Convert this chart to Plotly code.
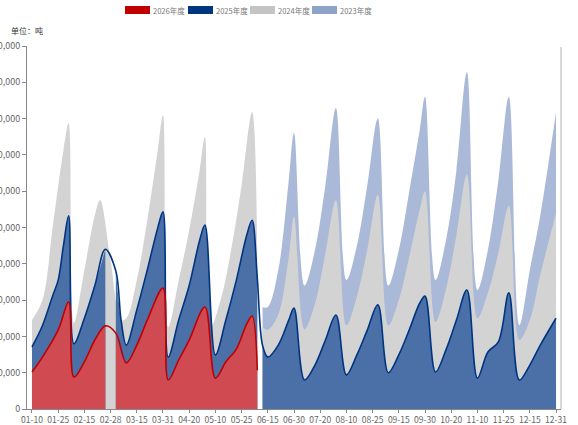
import plotly.graph_objects as go

# x axis categories (dates), a label on every 5th one
dates = [
    '01-10', '01-13', '01-16', '01-19', '01-22',
    '01-25', '01-28', '01-31', '02-05', '02-10',
    '02-15', '02-18', '02-21', '02-24', '02-26',
    '02-28', '03-03', '03-06', '03-09', '03-12',
    '03-15', '03-18', '03-21', '03-24', '03-28',
    '03-31', '04-04', '04-08', '04-12', '04-16',
    '04-20', '04-24', '04-28', '04-30', '05-05',
    '05-10', '05-13', '05-16', '05-19', '05-22',
    '05-25', '05-28', '05-31', '06-05', '06-10',
    '06-15', '06-18', '06-21', '06-24', '06-27',
    '06-30', '07-04', '07-08', '07-12', '07-16',
    '07-20', '07-24', '07-28', '07-31', '08-05',
    '08-10', '08-13', '08-16', '08-19', '08-22',
    '08-25', '08-28', '08-31', '09-05', '09-10',
    '09-15', '09-18', '09-21', '09-24', '09-27',
    '09-30', '10-04', '10-08', '10-12', '10-16',
    '10-20', '10-24', '10-28', '10-31', '11-05',
    '11-10', '11-13', '11-16', '11-19', '11-22',
    '11-25', '11-28', '11-30', '12-05', '12-10',
    '12-15', '12-18', '12-21', '12-24', '12-28',
    '12-31',
]
tick_labels = ['01-10', '01-25', '02-15', '02-28', '03-15', '03-31', '04-20',
               '05-10', '05-25', '06-15', '06-30', '07-20', '08-10', '08-25',
               '09-15', '09-30', '10-20', '11-10', '11-25', '12-15', '12-31']

# (date, tons); None = missing point, the area breaks there
s2026 = [('01-10', 102000), ('01-16', 143000), ('01-25', 218000), ('01-31', 295000),
         ('02-05', 88000), ('02-15', 130000), ('02-21', 190000), ('02-26', 229000),
         ('02-28', None), ('03-03', 209000), ('03-09', 127000), ('03-15', 176000),
         ('03-21', 245000), ('03-31', 333000), ('04-04', 80000), ('04-12', 135000),
         ('04-20', 190000), ('04-30', 281000), ('05-10', 85000), ('05-16', 130000),
         ('05-22', 165000), ('05-28', 235000), ('05-31', 256000), ('06-05', 107000)]

s2025_h1 = [('01-10', 171000), ('01-16', 230000), ('01-22', 314000), ('01-25', 355000),
            ('01-28', 450000), ('01-31', 532000), ('02-05', 180000), ('02-15', 250000),
            ('02-21', 340000), ('02-26', 440000), ('02-28', None), ('03-03', 380000),
            ('03-06', 245000), ('03-09', 176000), ('03-15', 273000), ('03-21', 383000),
            ('03-28', 499000), ('03-31', 543000), ('04-04', 143000), ('04-12', 245000),
            ('04-20', 340000), ('04-28', 465000), ('04-30', 507000), ('05-10', 149000),
            ('05-16', 245000), ('05-22', 355000), ('05-28', 480000), ('05-31', 520000),
            ('06-05', 360000)]
s2025_h2 = [('06-10', 175000), ('06-15', 143000), ('06-21', 176000),
            ('06-27', 245000), ('06-30', 278000), ('07-08', 80000), ('07-16', 121000),
            ('07-24', 190000), ('07-31', 259000), ('08-10', 94000), ('08-16', 149000),
            ('08-22', 218000), ('08-28', 287000), ('09-05', 100000), ('09-15', 149000),
            ('09-21', 218000), ('09-27', 292000), ('09-30', 311000), ('10-08', 102000),
            ('10-16', 163000), ('10-24', 245000), ('10-31', 328000), ('11-10', 85000),
            ('11-16', 157000), ('11-22', 185000), ('11-28', 320000), ('12-05', 80000),
            ('12-15', 121000), ('12-21', 176000), ('12-31', 250000)]

s2024_h1 = [('01-10', 245000), ('01-16', 300000), ('01-22', 507000), ('01-28', 713000),
            ('01-31', 788000), ('02-05', 237000), ('02-15', 383000), ('02-21', 534000),
            ('02-24', 576000), ('02-28', 410000), ('03-06', 245000), ('03-09', 250000),
            ('03-15', 355000), ('03-21', 520000), ('03-28', 713000), ('03-31', 810000),
            ('04-04', 226000), ('04-12', 355000), ('04-20', 493000), ('04-28', 658000),
            ('04-30', 750000), ('05-05', 223000), ('05-13', 300000), ('05-19', 438000),
            ('05-25', 617000), ('05-31', 818000), ('06-05', 400000)]
s2024_h2 = [('06-10', 225000), ('06-15', 218000), ('06-21', 260000), ('06-27', 420000),
            ('06-30', 530000), ('07-08', 220000), ('07-16', 290000), ('07-24', 430000),
            ('07-31', 575000), ('08-10', 230000), ('08-16', 310000), ('08-22', 440000),
            ('08-28', 590000), ('09-05', 230000), ('09-15', 300000), ('09-21', 420000),
            ('09-27', 550000), ('09-30', 600000), ('10-08', 240000), ('10-16', 330000),
            ('10-24', 480000), ('10-31', 645000), ('11-10', 250000), ('11-16', 320000),
            ('11-22', 430000), ('11-28', 560000), ('12-05', 190000), ('12-15', 245000),
            ('12-21', 370000), ('12-31', 540000)]

s2023 = [('06-10', 280000), ('06-15', 281000), ('06-21', 383000), ('06-27', 630000),
         ('06-30', 760000), ('07-08', 340000), ('07-16', 438000), ('07-24', 617000),
         ('07-31', 829000), ('08-10', 355000), ('08-16', 450000), ('08-22', 617000),
         ('08-28', 800000), ('09-05', 340000), ('09-15', 438000), ('09-21', 600000),
         ('09-27', 769000), ('09-30', 860000), ('10-08', 355000), ('10-16', 465000),
         ('10-24', 658000), ('10-31', 928000), ('11-10', 328000), ('11-16', 438000),
         ('11-22', 630000), ('11-28', 860000), ('12-05', 231000), ('12-15', 383000),
         ('12-21', 534000), ('12-31', 818000)]

# name, parts, area colour, legend / line colour
series = [
    ('2023年度', [s2023], '#a9b9d7', '#8ea3c8'),
    ('2024年度', [s2024_h1, s2024_h2], '#d3d3d3', '#c4c4c4'),
    ('2025年度', [s2025_h1, s2025_h2], '#4b70a8', '#003580'),
    ('2026年度', [s2026], '#d04a52', '#c00000'),
]


def split(pts):
    segs, cur = [], []
    for p in pts:
        if p[1] is None:
            if cur:
                segs.append(cur)
            cur = []
        else:
            cur.append(p)
    if cur:
        segs.append(cur)
    return segs


fig = go.Figure()

for name, parts, fc, lc in series:
    for part in parts:
        for seg in split(part):
            fig.add_trace(go.Scatter(x=[p[0] for p in seg], y=[p[1] for p in seg],
                                     mode='lines', fill='tozeroy', fillcolor=fc,
                                     line=dict(width=0, shape='spline', smoothing=1),
                                     showlegend=False, hoverinfo='skip'))

# outline for the two latest years, drawn across the breaks
for name, parts, fc, lc in series[2:]:
    pts = [p for part in parts for p in part if p[1] is not None]
    fig.add_trace(go.Scatter(x=[p[0] for p in pts], y=[p[1] for p in pts], mode='lines',
                             line=dict(width=1.6, color=lc, shape='spline', smoothing=1),
                             showlegend=False, hoverinfo='skip'))


# legend drawn by hand (paper coords from pixel positions)
def px_x(v):
    return (v - 27) / 534


def px_y(v):
    return (409 - v) / 363


leg_left = [125, 188, 250, 312]
for (name, parts, fc, lc), left in zip(series[::-1], leg_left):
    fig.add_shape(type='rect', xref='paper', yref='paper',
                  x0=px_x(left), x1=px_x(left + 25), y0=px_y(14), y1=px_y(6),
                  fillcolor=lc, line=dict(width=0))
    fig.add_annotation(text=name, xref='paper', yref='paper', x=px_x(left + 26),
                       y=px_y(10), xanchor='left', yanchor='middle', showarrow=False,
                       font=dict(size=7.5, color='#777777'))

fig.add_shape(type='line', xref='paper', yref='paper', x0=1, x1=1, y0=0, y1=0.997,
              line=dict(color='#cccccc', width=1.5))

fig.add_annotation(text='单位：吨', xref='paper', yref='paper', x=px_x(9), y=px_y(30),
                   xanchor='left', yanchor='middle', showarrow=False,
                   font=dict(size=8, color='#333333'))

fig.update_layout(
    width=578, height=425,
    margin=dict(l=27, r=17, t=46, b=16, autoexpand=False),
    plot_bgcolor='white', paper_bgcolor='white',
    font=dict(family='Noto Sans CJK SC', size=9, color='#666666'),
    showlegend=False,
    xaxis=dict(type='category', categoryorder='array', categoryarray=dates,
               range=[-0.95, 100.95], tickmode='array', tickvals=tick_labels,
               ticktext=tick_labels, showgrid=False, showline=True, automargin=False,
               linecolor='#888888', ticks='outside', ticklen=3, tickcolor='#888888',
               tickfont=dict(size=8.5, color='#666666'), tickangle=0),
    yaxis=dict(range=[0, 1000000], tickmode='array',
               tickvals=[i * 100000 for i in range(11)], tickformat=',',
               showgrid=False, showline=True, linecolor='#888888', ticks='outside',
               ticklen=4, tickcolor='#888888', zeroline=False, automargin=False,
               tickfont=dict(size=9, color='#666666')),
)

fig.write_html('out.html', config={'displayModeBar': False},
               post_script="document.body.style.margin='0';")
